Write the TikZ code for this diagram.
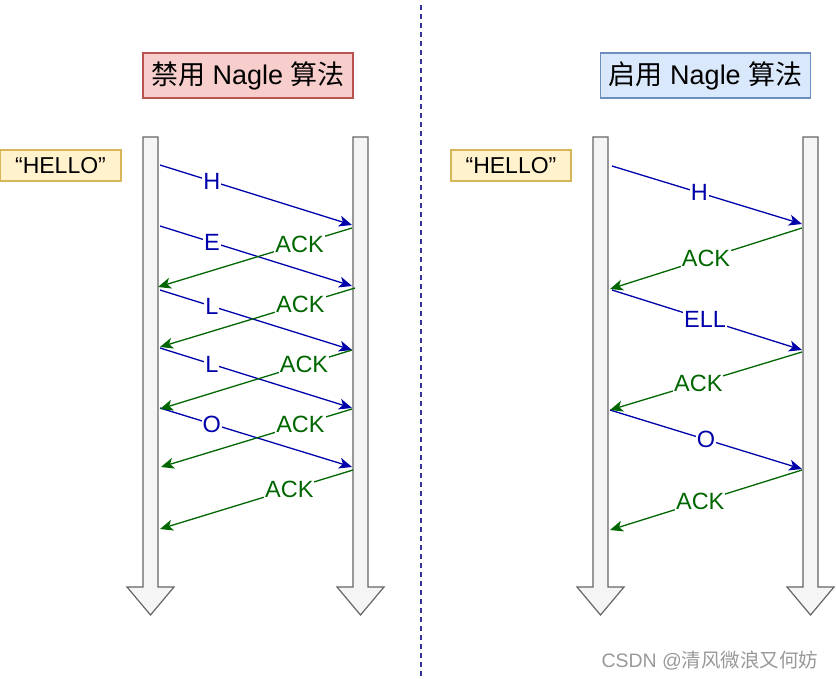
\documentclass[tikz,border=0pt]{standalone}
\usepackage{fontspec}
\setmainfont{Liberation Sans}
\newfontfamily\cjk{Noto Sans CJK SC}
\usepackage{tikz}
\usetikzlibrary{arrows.meta,positioning}

\definecolor{msgblue}{HTML}{0000AA}
\definecolor{ackgreen}{HTML}{006600}
\definecolor{sepblue}{HTML}{333399}
\definecolor{offpink}{HTML}{F8CECC}
\definecolor{offred}{HTML}{B85450}
\definecolor{onblue}{HTML}{DAE8FC}
\definecolor{onedge}{HTML}{6C8EBF}
\definecolor{strfill}{HTML}{FFF2CC}
\definecolor{stredge}{HTML}{D6B656}
\definecolor{linefill}{HTML}{F5F5F5}
\definecolor{lineedge}{HTML}{666666}

% hollow down arrow used as a time line, #1 = centre x
\newcommand{\timeline}[1]{%
  \draw[lineedge, fill=linefill, line width=1.2pt]
    ({#1-7.5},137) -- ({#1+7.5},137) -- ({#1+7.5},587) -- ({#1+23.5},587)
    -- (#1,615) -- ({#1-23.5},587) -- ({#1-7.5},587) -- cycle;
}

\begin{document}
\begin{tikzpicture}[
    x=1pt, y=-1pt,
    title/.style={rectangle, draw, line width=1.2pt, minimum width=210pt, minimum height=45pt, font=\fontsize{27}{32}\selectfont},
    word/.style={rectangle, draw=stredge, fill=strfill, line width=1.2pt, minimum height=31pt, font=\fontsize{23}{27}\selectfont},
    msg/.style={msgblue, line width=1.3pt, -{Stealth[length=13pt, width=11pt, inset=3.5pt]}},
    ack/.style={ackgreen, line width=1.3pt, -{Stealth[length=13pt, width=11pt, inset=3.5pt]}},
    lbl/.style={fill=white, inner sep=1pt, font=\fontsize{23.5}{28}\selectfont}
]
    \useasboundingbox (0,0) rectangle (836,678);

    % Separator
    \coordinate (septop) at (421,5);
    \coordinate (sepbot) at (421,678);
    \draw[sepblue, line width=1.3pt, dash pattern=on 5pt off 4pt] (septop) -- (sepbot);

    % Nagle off
    \node[title, draw=offred, fill=offpink] (offtitle) at (248,75.5) {{\cjk 禁用} Nagle {\cjk 算法}};
    \node[word, minimum width=121pt] (offword) at (60.5,165.5) {“HELLO”};
    \timeline{150.5}
    \timeline{360.5}

    \coordinate (oa1) at (160,165); \coordinate (ob1) at (352,225);
    \coordinate (oa2) at (160,226); \coordinate (ob2) at (352,286);
    \coordinate (oa3) at (160,290); \coordinate (ob3) at (352,350);
    \coordinate (oa4) at (160,348); \coordinate (ob4) at (352,408);
    \coordinate (oa5) at (160,408); \coordinate (ob5) at (352,467);
    \coordinate (ok1) at (352,228); \coordinate (oc1) at (158,287);
    \coordinate (ok2) at (355,288); \coordinate (oc2) at (160,347);
    \coordinate (ok3) at (352,350); \coordinate (oc3) at (160,409);
    \coordinate (ok4) at (352,409); \coordinate (oc4) at (161,467);
    \coordinate (ok5) at (353,470); \coordinate (oc5) at (160,529);

    \draw[msg] (oa1) -- node[lbl, pos=.27] {H} (ob1);
    \draw[msg] (oa2) -- node[lbl, pos=.27] {E} (ob2);
    \draw[msg] (oa3) -- node[lbl, pos=.27] {L} (ob3);
    \draw[msg] (oa4) -- node[lbl, pos=.27] {L} (ob4);
    \draw[msg] (oa5) -- node[lbl, pos=.27] {O} (ob5);
    \draw[ack] (ok1) -- node[lbl, pos=.27] {ACK} (oc1);
    \draw[ack] (ok2) -- node[lbl, pos=.28] {ACK} (oc2);
    \draw[ack] (ok3) -- node[lbl, pos=.25] {ACK} (oc3);
    \draw[ack] (ok4) -- node[lbl, pos=.27] {ACK} (oc4);
    \draw[ack] (ok5) -- node[lbl, pos=.33] {ACK} (oc5);

    % Nagle on
    \node[title, draw=onedge, fill=onblue] (ontitle) at (705.5,75.5) {{\cjk 启用} Nagle {\cjk 算法}};
    \node[word, minimum width=120pt] (onword) at (511,165.5) {“HELLO”};
    \timeline{600.5}
    \timeline{810.5}

    \coordinate (na1) at (612,166); \coordinate (nb1) at (802,224);
    \coordinate (na2) at (612,290); \coordinate (nb2) at (802,350);
    \coordinate (na3) at (610,410); \coordinate (nb3) at (802,469);
    \coordinate (nk1) at (802,228); \coordinate (nc1) at (610,289);
    \coordinate (nk2) at (802,352); \coordinate (nc2) at (610,410);
    \coordinate (nk3) at (802,470); \coordinate (nc3) at (610,530);

    \draw[msg] (na1) -- node[lbl, pos=.46] {H} (nb1);
    \draw[msg] (na2) -- node[lbl, pos=.49] {ELL} (nb2);
    \draw[msg] (na3) -- node[lbl, pos=.5] {O} (nb3);
    \draw[ack] (nk1) -- node[lbl, pos=.5] {ACK} (nc1);
    \draw[ack] (nk2) -- node[lbl, pos=.54] {ACK} (nc2);
    \draw[ack] (nk3) -- node[lbl, pos=.53] {ACK} (nc3);

    % Watermark
    \node[anchor=east, text=black!40, font=\fontsize{19.5}{23}\selectfont] (mark) at (822,661) {CSDN @{\cjk 清风微浪又何妨}};
\end{tikzpicture}
\end{document}
